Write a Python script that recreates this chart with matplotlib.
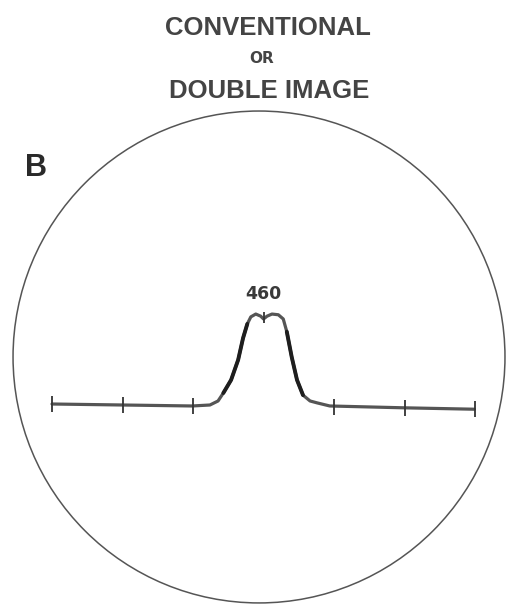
import numpy as np
import matplotlib
matplotlib.use("Agg")
import matplotlib.pyplot as plt
from matplotlib.patches import Circle

trace_range = [0.0, 0.99, 1.99, 2.24, 2.355, 2.43, 2.54, 2.64, 2.71, 2.77, 2.82, 2.89,
               2.96, 3.0, 3.05, 3.12, 3.21, 3.28, 3.33, 3.40, 3.475, 3.56, 3.66,
               3.76, 3.94, 4.99, 5.99]
trace_amp = [0.014, 0.0, -0.014, 0.0, 0.057, 0.17, 0.355, 0.64, 0.95, 1.15, 1.25, 1.29,
             1.26, 1.22, 1.26, 1.29, 1.28, 1.22, 1.04, 0.68, 0.355, 0.14, 0.057,
             0.03, -0.014, -0.04, -0.06]
tick_range = [0, 1, 2, 4, 5, 6]
tick_base = [0.014, 0.0, -0.014, -0.03, -0.04, -0.06]
peak_label = "460"
peak_range = 3.0
peak_amp = 1.22

scope_center = (2.936, 0.681)
scope_radius = 3.489

fig = plt.figure(figsize=(5.09, 6.09), dpi=100)
ax = fig.add_axes([0, 0, 1, 1])
ax.set_xlim(-0.738, 6.482)
ax.set_ylim(-2.894, 5.745)
ax.axis("off")

ink = "#555555"
letter = ["Liberation Sans", "DejaVu Sans"]

ax.add_patch(Circle(scope_center, scope_radius, fill=False, ec="#555555", lw=1.1))

ax.plot(trace_range, trace_amp, color=ink, lw=2.3, solid_joinstyle="round",
        solid_capstyle="round")
# darker flanks of the pulse
ax.plot(trace_range[5:10], trace_amp[5:10], color="#1e1e1e", lw=2.8, solid_capstyle="round")
ax.plot(trace_range[18:22], trace_amp[18:22], color="#1e1e1e", lw=2.8, solid_capstyle="round")

h = 0.11
ax.vlines(tick_range, np.array(tick_base) - h, np.array(tick_base) + h, color="#333333", lw=1.3)
ax.vlines([peak_range], peak_amp - 0.06, peak_amp + 0.1, color="#333333", lw=1.3)
ax.text(peak_range, peak_amp + 0.28, peak_label, ha="center", va="baseline",
        fontsize=12.5, fontweight="bold", color="#3a3a3a")

fig.text(268 / 509, 1 - 35 / 609, "CONVENTIONAL", ha="center", va="baseline",
         fontsize=18.5, fontweight="bold", family=letter, color="#444444")
fig.text(262 / 509, 1 - 63 / 609, "OR", ha="center", va="baseline", fontsize=11,
         fontweight="bold", color="#444444")
fig.text(269 / 509, 1 - 98 / 609, "DOUBLE IMAGE", ha="center", va="baseline",
         fontsize=18.5, fontweight="bold", family=letter, color="#444444")
fig.text(36 / 509, 1 - 176 / 609, "B", ha="center", va="baseline", fontsize=22,
         fontweight="bold", family=letter, color="#2a2a2a")

fig.savefig("out.png", dpi=100)
